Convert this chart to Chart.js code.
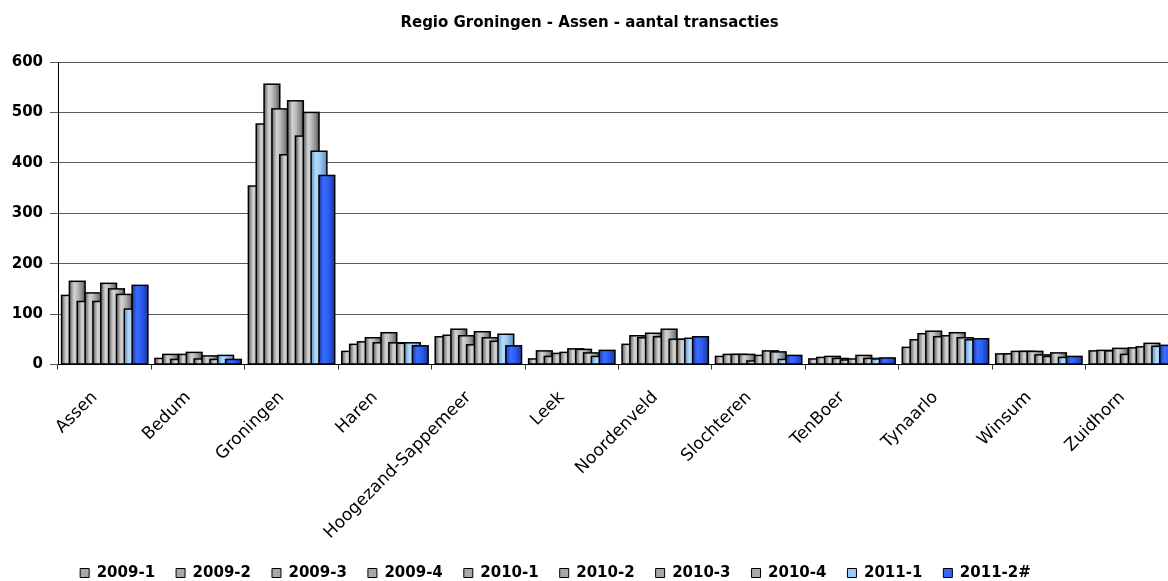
<!DOCTYPE html>
<html lang="nl">
<head>
<meta charset="utf-8">
<title>Regio Groningen - Assen - aantal transacties</title>
<script src="https://cdn.jsdelivr.net/npm/chart.js@4.4.1/dist/chart.umd.min.js"></script>
<style>
  html, body { margin: 0; padding: 0; background: #fff; overflow: hidden; }
  #wrap { position: relative; width: 1179px; height: 581px; }
</style>
</head>
<body>
<div id="wrap"><canvas id="transacties"></canvas></div>
<script>
// Gemeenten (categorieen op de x-as)
const gemeenten = ['Assen', 'Bedum', 'Groningen', 'Haren', 'Hoogezand-Sappemeer', 'Leek',
  'Noordenveld', 'Slochteren', 'TenBoer', 'Tynaarlo', 'Winsum', 'Zuidhorn'];

// Aantal transacties per periode, in de volgorde van gemeenten
const p2009_1 = [137, 12, 354, 26, 55, 11, 40, 16, 11, 34, 21, 27];
const p2009_2 = [165, 20, 477, 40, 58, 27, 57, 20, 14, 49, 21, 28];
const p2009_3 = [125, 10, 556, 45, 70, 16, 53, 20, 16, 61, 26, 27];
const p2009_4 = [142, 20, 507, 53, 57, 22, 62, 20, 12, 66, 26, 32];
const p2010_1 = [125, 24, 416, 43, 39, 24, 55, 7, 9, 55, 26, 20];
const p2010_2 = [161, 11, 523, 63, 65, 31, 70, 18, 11, 57, 19, 33];
const p2010_3 = [150, 17, 453, 43, 53, 30, 50, 27, 18, 63, 16, 35];
const p2010_4 = [139, 10, 500, 42, 46, 23, 50, 25, 12, 53, 23, 42];
const p2011_1 = [110, 18, 423, 43, 60, 16, 52, 10, 11, 49, 14, 36];
const p2011_2 = [157, 10, 375, 37, 37, 28, 55, 18, 13, 51, 16, 38];

const periodes = ['2009-1', '2009-2', '2009-3', '2009-4', '2010-1', '2010-2', '2010-3', '2010-4', '2011-1', '2011-2#'];
const reeksen = [p2009_1, p2009_2, p2009_3, p2009_4, p2010_1, p2010_2, p2010_3, p2010_4, p2011_1, p2011_2];

// Y-as labels
const yTicks = [0, 100, 200, 300, 400, 500, 600];

// Kleurverloop per balk (cilinder-effect zoals in Excel)
const grijs = [[0, '#5e5e5e'], [0.3, '#d4d4d4'], [0.5, '#bebebe'], [0.8, '#8a8a8a'], [1, '#555555']];
const lichtblauw = [[0, '#5f93c9'], [0.3, '#b4dcfb'], [0.55, '#9dcdf5'], [1, '#5a8cc0']];
const blauw = [[0, '#1a3bb0'], [0.3, '#3a6cff'], [0.6, '#2c5cf2'], [1, '#1836a0']];
const verlopen = [grijs, grijs, grijs, grijs, grijs, grijs, grijs, grijs, lichtblauw, blauw];
const legendaKleuren = ['#a8a8a8', '#a8a8a8', '#a8a8a8', '#a8a8a8', '#a8a8a8', '#a8a8a8', '#a8a8a8', '#a8a8a8', '#99ccff', '#3366ff'];

// Balken zelf tekenen: latere periodes over de vorige heen, met verloop
const cilinderBalken = {
  id: 'cilinderBalken',
  beforeDatasetsDraw(chart) {
    const ctx = chart.ctx;
    ctx.save();
    chart.getSortedVisibleDatasetMetas().forEach((meta) => {
      const stops = verlopen[meta.index];
      meta.data.forEach((bar) => {
        const { x, y, base, width } = bar.getProps(['x', 'y', 'base', 'width'], true);
        const left = x - width / 2;
        const grad = ctx.createLinearGradient(left, 0, left + width, 0);
        stops.forEach(([pos, kleur]) => grad.addColorStop(pos, kleur));
        ctx.fillStyle = grad;
        ctx.fillRect(left, y, width, base - y);
        ctx.lineWidth = 1.5;
        ctx.strokeStyle = '#000';
        ctx.strokeRect(left, y, width, base - y);
      });
    });
    ctx.restore();
    return false;
  }
};

// Legenda: vaste hoogte en iets naar links geschoven
const legendaPositie = {
  id: 'legendaPositie',
  beforeInit(chart) {
    const fit = chart.legend.fit;
    chart.legend.fit = function () {
      fit.bind(chart.legend)();
      this.height = 36.5;
    };
  },
  afterLayout(chart) {
    chart.legend.left -= 34;
    chart.legend.right -= 34;
  }
};

const ctx = document.getElementById('transacties');

new Chart(ctx, {
  type: 'bar',
  data: {
    labels: gemeenten,
    datasets: periodes.map((p, i) => ({
      label: p,
      data: reeksen[i],
      backgroundColor: legendaKleuren[i],
      borderColor: '#000',
      borderWidth: 1,
      categoryPercentage: 0.84,
      barPercentage: 2.0
    }))
  },
  options: {
    responsive: true,
    maintainAspectRatio: false,
    animation: false,
    layout: { padding: { left: 0, right: 0, top: 0, bottom: 0 } },
    plugins: {
      title: {
        display: true,
        text: 'Regio Groningen - Assen - aantal transacties',
        color: '#000',
        font: { family: 'DejaVu Sans', size: 15, weight: 'bold' },
        padding: { top: 14, bottom: 30 }
      },
      legend: {
        position: 'bottom',
        labels: {
          color: '#000',
          boxWidth: 9,
          boxHeight: 9,
          padding: 21,
          font: { family: 'DejaVu Sans', size: 15, weight: 'bold' }
        }
      },
      tooltip: { enabled: false }
    },
    scales: {
      x: {
        grid: {
          display: true,
          drawOnChartArea: false,
          offset: true,
          tickLength: 5,
          color: '#333'
        },
        border: { color: '#000', width: 1 },
        ticks: {
          autoSkip: false,
          minRotation: 45,
          maxRotation: 45,
          color: '#000',
          padding: 18,
          labelOffset: -10,
          font: { family: 'DejaVu Sans', size: 17 }
        },
        afterFit(scale) { scale.height = 180; }
      },
      y: {
        min: 0,
        max: 600,
        grid: { color: '#5a5a5a', tickLength: 8 },
        border: { color: '#000', width: 1 },
        afterBuildTicks(scale) { scale.ticks = yTicks.map((v) => ({ value: v })); },
        ticks: {
          color: '#000',
          padding: 7,
          font: { family: 'DejaVu Sans', size: 15, weight: 'bold' }
        },
        afterFit(scale) { scale.width = 58; }
      }
    }
  },
  plugins: [cilinderBalken, legendaPositie]
});
</script>
</body>
</html>
